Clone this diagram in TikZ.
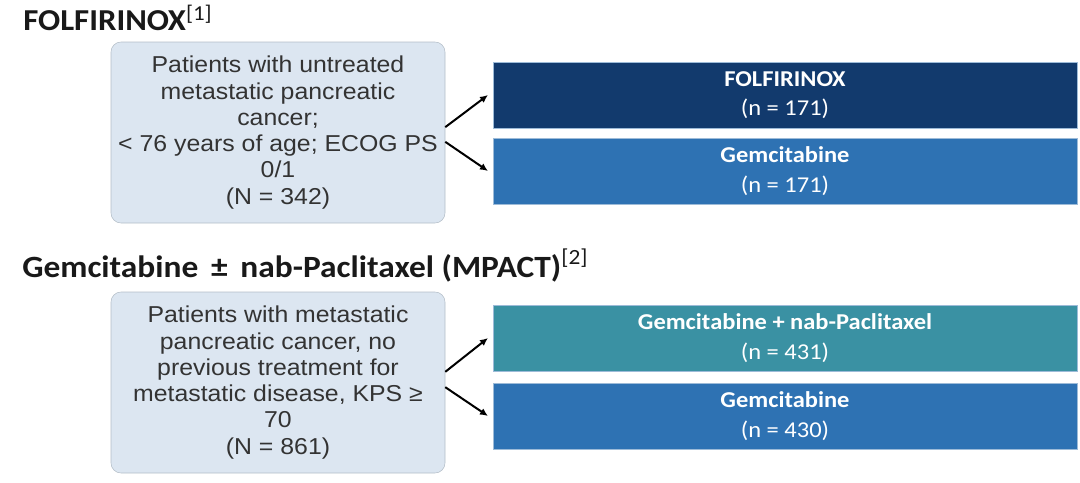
\documentclass[tikz,border=0pt]{standalone}
\usepackage{fontspec}
\setmainfont{Liberation Sans}[FakeStretch=1.08]
\newfontfamily\calibri{Carlito}[FakeStretch=1.08]
\usetikzlibrary{arrows.meta}

\definecolor{navybox}{HTML}{123A6D}
\definecolor{bluebox}{HTML}{2E72B3}
\definecolor{tealbox}{HTML}{3A91A3}
\definecolor{armline}{HTML}{9DBBD8}
\definecolor{cohortfill}{HTML}{DCE6F1}
\definecolor{cohortline}{HTML}{B4BEC8}

\begin{document}
\begin{tikzpicture}[x=0.75pt, y=-0.75pt,
        heading/.style={anchor=base west, inner sep=0pt, text=black!90,
            font=\calibri\fontsize{22.8}{26}\selectfont\bfseries},
        cohort/.style={draw=cohortline, fill=cohortfill, rounded corners=7.5pt,
            minimum width=250.5pt, minimum height=135.75pt, inner sep=0pt,
            align=center, text=black!80, font=\fontsize{17.25}{19.7}\selectfont},
        arm/.style={draw=armline, line width=0.5pt, minimum width=438pt,
            minimum height=49.5pt, inner sep=0pt, align=center, text=white,
            font=\calibri\fontsize{17}{22}\selectfont},
        split/.style={line width=1.5pt, -{Latex[length=6pt,width=5.5pt]}}]

                \useasboundingbox (0,0) rectangle (1080,482);

                \node[heading] (title1) at (23,30.7) {FOLFIRINOX\textsuperscript{\mdseries[1]}};
                \node[heading, font=\calibri\fontsize{23.2}{28}\selectfont\bfseries] (title2) at (22,277)
                    {Gemcitabine\ \,±\ \,nab-Paclitaxel (MPACT)\textsuperscript{\mdseries[2]}};

                \node[cohort] (pop1) at (278,132.5) {Patients with untreated\\metastatic pancreatic\\cancer;\\< 76 years of age; ECOG PS\\0/1\\(N = 342)};
                \node[cohort] (pop2) at (278,382.5) {Patients with metastatic\\pancreatic cancer, no\\previous treatment for\\metastatic disease, KPS ≥\\70\\(N = 861)};

                \node[arm, fill=navybox] (folfi) at (785,95) {\textbf{FOLFIRINOX}\\(n = 171)};
                \node[arm, fill=bluebox] (gem1) at (785,171) {\textbf{Gemcitabine}\\(n = 171)};
                \node[arm, fill=tealbox] (gemnab) at (785,338) {\textbf{Gemcitabine + nab-Paclitaxel}\\(n = 431)};
                \node[arm, fill=bluebox] (gem2) at (785,416) {\textbf{Gemcitabine}\\(n = 430)};

                \draw[split] ([yshift=4pt]pop1.east) -- ([xshift=-3.5pt]folfi.west);
                \draw[split] ([yshift=-7pt]pop1.east) -- ([xshift=-3.5pt]gem1.west);
                \draw[split] ([yshift=8pt]pop2.east) -- ([xshift=-3.5pt]gemnab.west);
                \draw[split] ([yshift=-3.5pt]pop2.east) -- ([xshift=-3.5pt]gem2.west);

            \end{tikzpicture}
\end{document}
